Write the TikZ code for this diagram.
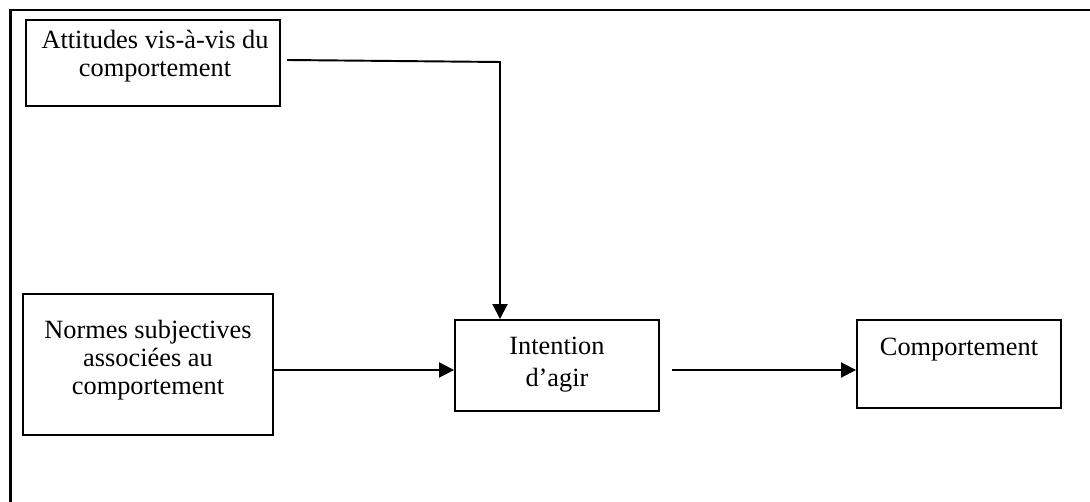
\documentclass[tikz,border=0pt]{standalone}
\usepackage{fontspec}
\setmainfont{Liberation Serif}
\usetikzlibrary{arrows.meta}

\tikzset{
  box/.style={draw=black, line width=1.1pt, inner sep=0pt},
  txt/.style={font=\fontsize{15}{16}\selectfont, align=center, inner sep=0pt, anchor=north},
  link/.style={black, line width=1.1pt},
  arrow/.style={link, -{Triangle[length=0.3cm, width=0.3cm]}}
}

\begin{document}
\begin{tikzpicture}[x=0.02cm, y=-0.02cm]
\useasboundingbox (0,0) rectangle (1090,502);
% outer frame (only top and left edges are seen)
\draw[black, line width=1.3pt] (1090,10) -- (10.5,10) -- (10.5,502);

% boxes
\node[box, minimum width=5.08cm, minimum height=1.72cm] (att) at (153,63) {};
\node[box, minimum width=5.00cm, minimum height=2.82cm] (nor) at (148,364.5) {};
\node[box, minimum width=4.08cm, minimum height=1.82cm] (int) at (557,365.5) {};
\node[box, minimum width=4.08cm, minimum height=1.76cm] (com) at (959,364) {};

% texts, top aligned in the boxes
\node[txt] (attlbl) at (155,30) {Attitudes vis-à-vis du\\comportement};
\node[txt] (norlbl) at (148,320) {Normes subjectives\\associées au\\comportement};
\node[txt] (intlbl) at (557,337) {Intention\\[2pt]d’agir};
\node[txt] (comlbl) at (959,338) {Comportement};

% connectors
\coordinate (attout) at (287,60);
\coordinate (bend) at (500,62);
\coordinate (intout) at (672,370);
\draw[arrow] (attout) -- (bend) -- (bend |- int.north);
\draw[arrow] (nor.east |- intout) -- (int.west |- intout);
\draw[arrow] (intout) -- (com.west |- intout);
\end{tikzpicture}
\end{document}
